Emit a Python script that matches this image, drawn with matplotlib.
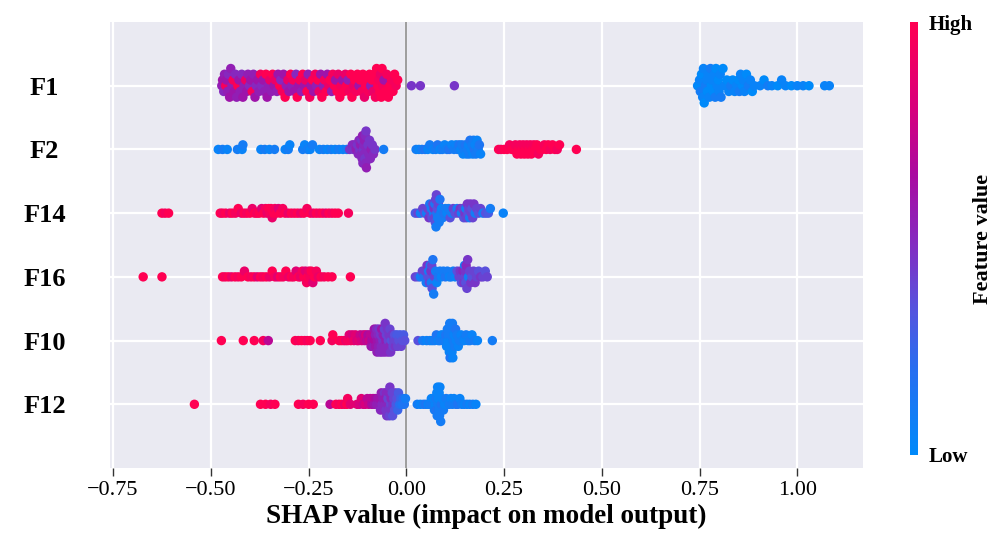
import numpy as np
import matplotlib
matplotlib.use('Agg')
import matplotlib.pyplot as plt
from matplotlib.colors import LinearSegmentedColormap

## features, top to bottom
features = ['F1', 'F2', 'F14', 'F16', 'F10', 'F12']

## shap values, with the scaled feature value (0 low, 1 high)
f1_shap = [-0.472,-0.47,-0.467,-0.465,-0.462,-0.46,-0.457,-0.455,-0.452,-0.449,
           -0.446,-0.443,-0.44,-0.437,-0.434,-0.431,-0.428,-0.425,-0.421,-0.418,
           -0.415,-0.411,-0.408,-0.405,-0.401,-0.398,-0.394,-0.391,-0.387,-0.384,
           -0.38,-0.377,-0.373,-0.37,-0.366,-0.363,-0.359,-0.356,-0.352,-0.349,
           -0.345,-0.342,-0.338,-0.335,-0.331,-0.328,-0.324,-0.321,-0.317,-0.314,
           -0.31,-0.307,-0.303,-0.3,-0.296,-0.293,-0.289,-0.286,-0.282,-0.279,
           -0.275,-0.272,-0.268,-0.265,-0.261,-0.258,-0.254,-0.251,-0.247,-0.244,
           -0.24,-0.237,-0.233,-0.23,-0.226,-0.223,-0.219,-0.216,-0.212,-0.209,
           -0.205,-0.202,-0.198,-0.195,-0.191,-0.188,-0.184,-0.181,-0.177,-0.174,
           -0.17,-0.167,-0.163,-0.16,-0.156,-0.153,-0.149,-0.146,-0.142,-0.139,
           -0.135,-0.132,-0.128,-0.125,-0.121,-0.118,-0.114,-0.111,-0.107,-0.104,
           -0.1,-0.097,-0.094,-0.091,-0.088,-0.085,-0.082,-0.079,-0.076,-0.073,
           -0.07,-0.068,-0.066,-0.064,-0.062,-0.06,-0.057,-0.054,-0.05,-0.046,
           -0.042,-0.038,-0.034,-0.03,-0.026,-0.022,
           0.013,0.036,0.123,
           0.745,0.748,0.75,0.752,0.755,0.758,0.76,0.762,0.765,0.768,
           0.77,0.772,0.775,0.778,0.78,0.782,0.785,0.788,0.79,0.792,
           0.795,0.798,0.80,0.803,0.805,0.81,0.815,0.82,0.825,0.83,
           0.835,0.84,0.845,0.85,0.852,0.855,0.86,0.862,0.865,0.87,
           0.875,0.88,0.885,0.89,0.905,0.915,0.925,0.935,0.95,0.96,
           0.97,0.985,1.0,1.015,1.03,1.07,1.082]
f1_feat = [0.55,0.6,0.5,0.55,0.95,0.6,0.55,0.5,0.6,0.55,
           0.55,0.95,0.6,0.5,0.55,1.0,0.6,0.55,0.5,0.6,
           0.55,0.9,0.6,0.55,0.5,0.6,0.95,0.55,0.6,0.5,
           0.6,0.55,0.95,0.5,0.6,0.55,1.0,0.6,0.55,0.9,
           0.55,1.0,0.6,0.9,0.55,0.6,1.0,0.5,0.95,0.6,
           1.0,0.55,0.9,0.6,1.0,0.55,0.95,0.6,0.5,1.0,
           0.6,0.95,0.55,1.0,0.6,0.9,1.0,0.55,0.95,0.6,
           1.0,0.6,0.95,0.55,1.0,0.9,0.6,1.0,0.55,0.95,
           1.0,0.6,0.9,1.0,0.55,0.95,1.0,0.6,1.0,0.9,
           1.0,0.95,0.6,1.0,0.9,1.0,0.55,0.95,1.0,1.0,
           0.9,1.0,0.95,1.0,0.6,1.0,0.95,1.0,0.9,1.0,
           1.0,0.95,1.0,0.55,1.0,0.9,1.0,0.95,1.0,1.0,
           0.95,1.0,0.9,1.0,1.0,0.95,0.6,1.0,0.95,1.0,
           1.0,0.95,1.0,1.0,0.95,1.0,
           0.45,0.45,0.45,
           0.05,0.0,0.05,0.1,0.0,0.05,0.05,0.0,0.1,0.05,
           0.0,0.05,0.05,0.1,0.0,0.05,0.0,0.05,0.1,0.0,
           0.05,0.0,0.05,0.05,0.1,0.0,0.05,0.0,0.05,0.1,
           0.0,0.05,0.05,0.0,0.1,0.05,0.0,0.05,0.05,0.0,
           0.1,0.05,0.0,0.05,0.05,0.0,0.1,0.05,0.0,0.05,
           0.05,0.0,0.05,0.05,0.0,0.05,0.05]

f2_shap = [-0.481,-0.47,-0.458,-0.432,-0.42,-0.418,-0.372,-0.362,-0.35,-0.337,
           -0.31,-0.302,-0.298,-0.265,-0.26,-0.252,-0.246,-0.24,-0.222,-0.212,
           -0.202,-0.192,-0.182,-0.172,-0.162,-0.152,
           -0.145,-0.138,-0.135,-0.132,-0.128,-0.125,-0.123,-0.121,-0.119,-0.117,
           -0.115,-0.114,-0.113,-0.112,-0.111,-0.11,-0.109,-0.108,-0.107,-0.106,
           -0.105,-0.104,-0.103,-0.102,-0.1,-0.098,-0.096,-0.094,-0.092,-0.09,
           -0.087,-0.084,-0.08,
           -0.058,
           0.025,0.032,0.04,0.048,0.055,0.06,0.068,0.075,0.08,0.086,
           0.092,0.098,0.104,0.11,0.116,0.122,0.127,0.131,0.135,0.139,
           0.142,0.145,0.148,0.151,0.154,0.156,0.159,0.161,0.163,0.166,
           0.168,0.17,0.172,0.174,0.176,0.178,0.181,0.184,0.187,0.19,
           0.236,0.242,0.25,0.258,0.264,0.27,0.275,0.279,0.283,0.287,
           0.29,0.293,0.296,0.299,0.302,0.305,0.308,0.311,0.314,0.317,
           0.32,0.323,0.326,0.33,0.334,0.338,0.343,0.348,0.353,0.358,
           0.363,0.368,0.374,0.38,0.386,0.392,0.435]
f2_feat = [0.05,0.1,0.05,0.1,0.05,0.1,0.05,0.1,0.05,0.1,
           0.05,0.1,0.05,0.1,0.05,0.1,0.05,0.1,0.05,0.1,
           0.05,0.1,0.05,0.1,0.05,0.1,
           0.45,0.5,0.45,0.5,0.55,0.45,0.5,0.5,0.45,0.55,
           0.5,0.45,0.5,0.55,0.5,0.45,0.5,0.5,0.55,0.45,
           0.5,0.5,0.45,0.55,0.5,0.45,0.5,0.45,0.5,0.55,
           0.45,0.5,0.45,
           0.1,
           0.1,0.05,0.1,0.15,0.05,0.1,0.05,0.1,0.15,0.05,
           0.1,0.05,0.1,0.15,0.05,0.1,0.05,0.1,0.15,0.05,
           0.1,0.05,0.1,0.15,0.05,0.1,0.05,0.1,0.15,0.05,
           0.1,0.05,0.1,0.15,0.05,0.1,0.05,0.1,0.15,0.05,
           1.0,0.95,1.0,1.0,0.95,1.0,1.0,0.95,1.0,1.0,
           0.95,1.0,1.0,0.95,1.0,1.0,0.95,1.0,1.0,0.95,
           1.0,1.0,0.95,1.0,1.0,0.95,1.0,1.0,0.95,1.0,
           1.0,0.95,1.0,1.0,0.95,1.0,1.0]

f14_shap = [-0.625,-0.617,-0.608,
            -0.476,-0.47,-0.462,-0.452,-0.445,-0.437,-0.43,-0.422,-0.415,-0.408,
            -0.40,-0.394,-0.388,-0.382,-0.376,-0.37,-0.365,-0.36,-0.356,-0.352,
            -0.349,-0.346,-0.343,-0.34,-0.336,-0.332,-0.327,-0.322,-0.316,-0.31,
            -0.302,-0.294,-0.286,-0.278,-0.27,-0.262,-0.254,-0.246,-0.238,-0.23,
            -0.222,-0.214,-0.206,-0.198,-0.19,-0.182,-0.174,
            -0.148,
            0.023,0.03,0.036,0.042,0.047,0.052,0.055,0.058,0.06,0.062,
            0.064,0.066,0.068,0.07,0.071,0.072,0.073,0.074,0.075,0.076,
            0.077,0.078,0.079,0.08,0.082,0.084,0.086,0.088,0.09,0.093,
            0.096,0.1,0.104,0.108,0.112,0.116,
            0.12,0.125,0.13,0.134,0.138,0.141,0.144,0.147,0.15,0.152,
            0.154,0.156,0.158,0.16,0.162,0.164,0.166,0.168,0.17,0.173,
            0.176,0.18,0.185,0.19,0.196,0.203,0.21,0.215,
            0.248]
f14_feat = [1.0,0.95,1.0,
            1.0,0.95,1.0,0.9,1.0,0.95,1.0,0.9,1.0,0.95,
            1.0,0.9,1.0,0.95,1.0,0.85,1.0,0.95,0.9,1.0,
            0.95,1.0,0.9,1.0,0.95,1.0,0.85,1.0,0.95,1.0,
            0.9,1.0,0.95,1.0,0.9,1.0,0.95,1.0,0.9,1.0,
            0.95,1.0,0.9,1.0,0.95,1.0,1.0,
            0.95,
            0.3,0.4,0.1,0.4,0.35,0.1,0.4,0.45,0.15,0.4,
            0.1,0.35,0.4,0.1,0.45,0.4,0.15,0.35,0.4,0.1,
            0.4,0.15,0.35,0.1,0.4,0.1,0.15,0.1,0.05,0.1,
            0.15,0.1,0.05,0.1,0.35,0.1,
            0.4,0.35,0.1,0.4,0.45,0.1,0.4,0.35,0.45,0.1,
            0.4,0.45,0.35,0.4,0.1,0.45,0.4,0.35,0.4,0.45,
            0.1,0.4,0.35,0.4,0.1,0.35,0.3,0.1,
            0.05]

f16_shap = [-0.673,-0.625,
            -0.47,-0.463,-0.455,-0.447,-0.438,-0.43,-0.422,-0.414,-0.405,-0.397,
            -0.389,-0.381,-0.373,-0.366,-0.358,-0.35,-0.343,-0.336,-0.329,-0.322,
            -0.315,-0.308,-0.301,-0.294,-0.288,-0.282,-0.276,-0.271,-0.266,-0.262,
            -0.258,-0.255,-0.252,-0.249,-0.246,-0.243,-0.239,-0.235,-0.23,-0.225,
            -0.218,-0.21,-0.2,-0.19,
            -0.143,
            0.023,0.03,0.036,0.041,0.045,0.048,0.051,0.053,0.055,0.057,
            0.059,0.061,0.062,0.063,0.064,0.065,0.066,0.068,0.07,0.072,
            0.075,0.078,0.082,0.086,0.09,0.095,0.1,0.105,0.11,0.115,
            0.12,0.125,0.13,
            0.135,0.138,0.141,0.143,0.145,0.147,0.149,0.15,0.151,0.152,
            0.153,0.155,0.157,0.159,0.162,0.165,0.168,0.172,0.176,0.18,
            0.185,0.19,0.196,0.202,0.207]
f16_feat = [1.0,1.0,
            1.0,0.95,1.0,0.9,1.0,0.95,1.0,0.9,1.0,0.95,
            1.0,0.85,1.0,0.95,1.0,0.9,1.0,0.95,0.85,1.0,
            0.95,1.0,0.9,1.0,0.95,0.85,1.0,0.9,0.95,1.0,
            0.85,0.95,1.0,0.9,0.95,1.0,0.85,1.0,0.95,0.9,
            1.0,0.95,1.0,1.0,
            1.0,
            0.4,0.35,0.1,0.4,0.15,0.4,0.1,0.45,0.35,0.1,
            0.4,0.15,0.35,0.45,0.1,0.4,0.35,0.15,0.1,0.4,
            0.1,0.05,0.15,0.1,0.05,0.1,0.15,0.1,0.05,0.1,
            0.1,0.05,0.35,
            0.4,0.45,0.35,0.4,0.5,0.45,0.1,0.4,0.45,0.35,
            0.5,0.4,0.45,0.1,0.4,0.45,0.35,0.4,0.45,0.4,
            0.35,0.45,0.4,0.35,0.4]

f10_shap = [-0.473,-0.417,-0.389,-0.366,-0.353,
            -0.284,-0.276,-0.268,-0.26,-0.253,-0.246,-0.22,-0.19,-0.188,
            -0.172,-0.166,-0.16,-0.155,-0.15,-0.146,-0.142,-0.138,-0.134,-0.13,
            -0.126,-0.122,-0.118,-0.114,-0.11,-0.107,-0.104,-0.101,-0.098,-0.095,
            -0.092,-0.09,-0.088,-0.086,-0.084,-0.082,-0.08,-0.079,-0.078,-0.076,
            -0.075,-0.074,-0.072,-0.071,-0.07,-0.068,-0.067,-0.066,-0.064,-0.063,
            -0.062,-0.06,-0.059,-0.058,-0.056,-0.055,-0.054,-0.052,-0.051,-0.05,
            -0.048,-0.047,-0.046,-0.044,-0.043,-0.042,-0.04,-0.038,-0.036,-0.034,
            -0.032,-0.03,-0.028,-0.026,-0.024,-0.022,-0.019,-0.016,-0.013,-0.01,
            -0.007,-0.004,
            0.03,0.042,0.052,0.06,0.066,0.072,0.077,0.082,0.086,0.09,
            0.093,0.096,0.099,0.101,0.103,0.105,0.106,0.107,0.108,0.109,
            0.11,0.111,0.112,0.113,0.114,0.115,0.116,0.117,0.118,0.119,
            0.12,0.122,0.124,0.126,0.128,0.13,0.133,0.136,0.14,0.144,
            0.148,0.153,0.158,0.163,0.168,0.175,0.182,0.22]
f10_feat = [1.0,1.0,1.0,0.95,0.7,
            1.0,0.95,1.0,1.0,0.95,1.0,1.0,0.95,1.0,
            1.0,0.95,1.0,0.9,0.95,0.85,0.95,0.8,0.9,0.85,
            0.8,0.85,0.75,0.8,0.7,0.75,0.8,0.7,0.65,0.75,
            0.7,0.6,0.65,0.7,0.55,0.6,0.65,0.55,0.6,0.5,
            0.55,0.6,0.5,0.55,0.45,0.5,0.55,0.45,0.5,0.6,
            0.5,0.45,0.55,0.5,0.4,0.5,0.45,0.55,0.4,0.5,
            0.45,0.5,0.4,0.45,0.5,0.4,0.45,0.35,0.45,0.4,
            0.4,0.35,0.45,0.4,0.3,0.4,0.35,0.3,0.4,0.35,
            0.3,0.35,
            0.35,0.1,0.05,0.1,0.05,0.1,0.15,0.05,0.1,0.05,
            0.1,0.05,0.1,0.15,0.05,0.1,0.05,0.1,0.05,0.1,
            0.05,0.1,0.15,0.05,0.1,0.05,0.1,0.05,0.1,0.05,
            0.1,0.05,0.1,0.15,0.05,0.1,0.05,0.1,0.05,0.1,
            0.05,0.1,0.05,0.1,0.05,0.1,0.05,0.1]

f12_shap = [-0.542,-0.373,-0.36,-0.347,-0.336,-0.276,-0.264,-0.25,-0.238,
            -0.195,-0.18,-0.172,-0.165,-0.158,-0.152,-0.15,-0.143,
            -0.126,-0.12,-0.115,-0.11,-0.105,-0.1,-0.096,-0.092,-0.088,-0.085,
            -0.082,-0.079,-0.076,-0.073,-0.07,-0.068,-0.066,-0.064,-0.062,-0.06,
            -0.058,-0.056,-0.055,-0.054,-0.052,-0.051,-0.05,-0.048,-0.047,-0.046,
            -0.044,-0.043,-0.042,-0.04,-0.039,-0.038,-0.036,-0.035,-0.034,-0.032,
            -0.03,-0.028,-0.026,-0.024,-0.022,-0.02,-0.017,-0.014,-0.011,-0.008,
            -0.005,-0.002,
            0.028,0.036,0.044,0.05,0.056,0.06,0.064,0.067,0.07,0.072,
            0.074,0.076,0.077,0.078,0.079,0.08,0.081,0.082,0.083,0.084,
            0.085,0.086,0.088,0.09,0.092,0.095,0.098,0.102,0.106,0.11,
            0.114,0.118,0.122,0.127,0.132,0.137,0.142,0.148,0.155,0.162,
            0.17,0.178]
f12_feat = [1.0,1.0,1.0,0.95,1.0,1.0,0.95,1.0,1.0,
            0.7,1.0,0.95,1.0,0.9,1.0,0.95,0.85,
            0.85,0.8,0.85,0.75,0.8,0.7,0.75,0.7,0.65,0.7,
            0.6,0.65,0.55,0.6,0.55,0.6,0.5,0.55,0.5,0.55,
            0.5,0.45,0.5,0.55,0.45,0.5,0.45,0.5,0.4,0.45,
            0.5,0.4,0.45,0.4,0.5,0.45,0.4,0.35,0.45,0.4,
            0.35,0.4,0.3,0.35,0.25,0.3,0.2,0.25,0.15,0.2,
            0.15,0.1,
            0.1,0.05,0.1,0.15,0.05,0.1,0.05,0.1,0.05,0.1,
            0.05,0.1,0.15,0.05,0.1,0.05,0.1,0.05,0.1,0.05,
            0.1,0.05,0.1,0.15,0.05,0.1,0.05,0.1,0.05,0.1,
            0.05,0.1,0.05,0.1,0.15,0.05,0.1,0.05,0.1,0.05,
            0.1,0.05]

shap_vals = [f1_shap, f2_shap, f14_shap, f16_shap, f10_shap, f12_shap]
feat_vals = [f1_feat, f2_feat, f14_feat, f16_feat, f10_feat, f12_feat]
xticks = [-0.75, -0.50, -0.25, 0.00, 0.25, 0.50, 0.75, 1.00]

## shap-like red/blue map
red_blue = LinearSegmentedColormap.from_list('red_blue', [
    (0.0, (0/255, 138/255, 250/255)),
    (0.2, (40/255, 110/255, 240/255)),
    (0.35, (90/255, 80/255, 220/255)),
    (0.5, (135/255, 40/255, 190/255)),
    (0.65, (170/255, 10/255, 160/255)),
    (0.8, (215/255, 0/255, 125/255)),
    (1.0, (255/255, 0/255, 82/255))])

SERIF = ['Liberation Serif', 'DejaVu Serif']


def swarm_offsets(vals, row_height=0.4, nbins=100):
    ## same binning trick as shap's beeswarm
    vals = np.asarray(vals, dtype=float)
    quant = np.round(nbins*(vals - vals.min())/(vals.max() - vals.min() + 1e-8))
    inds = np.argsort(quant, kind='stable')
    ys = np.zeros(len(vals))
    layer = 0
    last_bin = -1
    for ind in inds:
        if quant[ind] != last_bin:
            layer = 0
        ys[ind] = np.ceil(layer/2)*((layer % 2)*2 - 1)
        layer += 1
        last_bin = quant[ind]
    ys *= 0.9*(row_height/np.max(ys + 1))
    return ys
##END swarm_offsets


def main():
    fig = plt.figure(figsize=(10.06, 5.42), dpi=100)
    ax = fig.add_axes([0.1093, 0.1365, 0.7485, 0.8229])
    ax.set_facecolor('#EAEAF2')

    n = len(features)
    for i, (sv, fv) in enumerate(zip(shap_vals, feat_vals)):
        pos = n - 1 - i
        ys = swarm_offsets(sv)
        ax.scatter(sv, pos + ys, c=fv, cmap=red_blue, vmin=0, vmax=1,
                   s=46, linewidth=0, zorder=3)

    ax.axvline(0, color='#8c8c8c', lw=1.2, zorder=2)
    ax.set_xlim(-0.758, 1.168)
    ax.set_ylim(-1, n)
    ax.set_xticks(xticks)
    ax.set_xticklabels(['%.2f' % t if t >= 0 else '\u2212%.2f' % -t for t in xticks],
                       family=SERIF, fontsize=16)
    ax.set_yticks(range(n))
    ax.set_yticklabels(features[::-1], family=SERIF, fontsize=19, fontweight='bold')
    for lab in ax.get_yticklabels():
        lab.set_horizontalalignment('center')
    ax.tick_params(axis='y', length=0, pad=47)
    ax.tick_params(axis='x', length=6, width=1, color='#333333', pad=3)
    ax.grid(True, color='white', lw=1.6, zorder=0)
    ax.set_axisbelow(True)
    for sp in ax.spines.values():
        sp.set_visible(False)
    ax.set_xlabel('SHAP value (impact on model output)', family=SERIF,
                  fontsize=19.5, fontweight='bold', labelpad=3)

    ## colorbar
    cax = fig.add_axes([910/1006, (542-455)/542, 8/1006, 433/542])
    sm = plt.cm.ScalarMappable(cmap=red_blue, norm=plt.Normalize(0, 1))
    cb = fig.colorbar(sm, cax=cax, ticks=[0, 1])
    cb.set_ticklabels(['Low', 'High'])
    for lab in cax.get_yticklabels():
        lab.set_family(SERIF)
        lab.set_fontsize(15)
        lab.set_fontweight('bold')
    cax.tick_params(length=0, pad=8)
    cb.outline.set_visible(False)
    cb.set_label('Feature value', family=SERIF, fontsize=16, fontweight='bold',
                 labelpad=0)

    fig.savefig('out.png', dpi=100)
##END main


if __name__ == '__main__':
    main()
